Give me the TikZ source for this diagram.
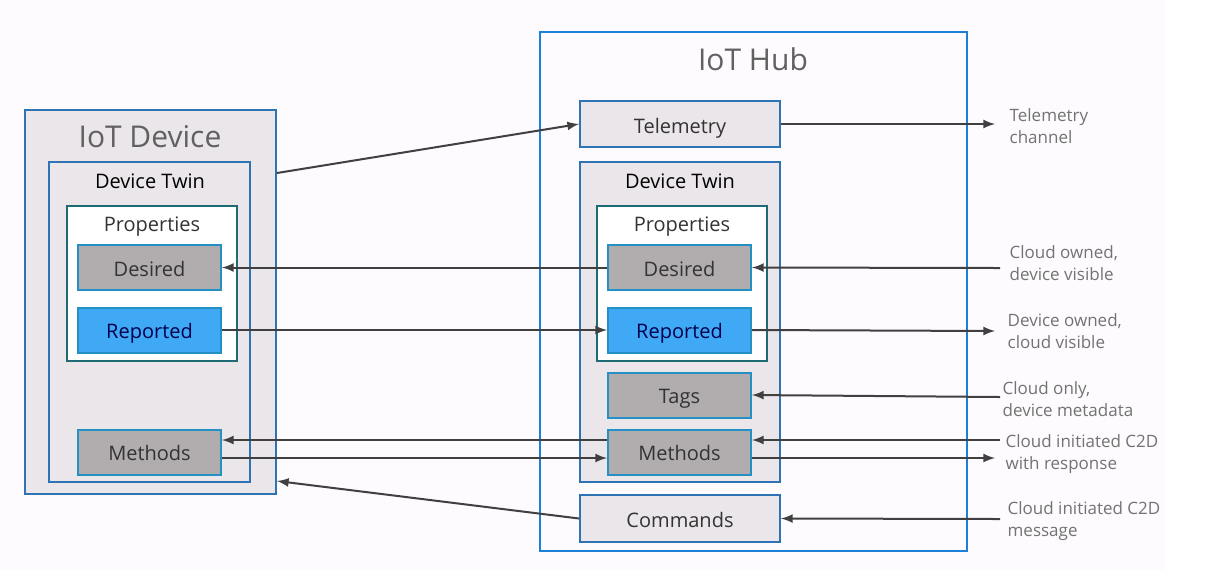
\documentclass[tikz,border=0pt]{standalone}
\usepackage{fontspec}
\setmainfont{Open Sans}
\usepackage{tikz}

\definecolor{paper}{HTML}{FDFBFD}
\definecolor{panel}{HTML}{EBE6E9}
\definecolor{slab}{HTML}{B1ADAE}
\definecolor{skyblue}{HTML}{3FA9F5}
\definecolor{boxblue}{HTML}{2E74B5}
\definecolor{hubblue}{HTML}{1C80D8}
\definecolor{propteal}{HTML}{1F6B75}
\definecolor{wire}{HTML}{404040}
\definecolor{ink}{HTML}{333333}
\definecolor{note}{HTML}{737373}

\begin{document}
\begin{tikzpicture}[x=0.5pt, y=-0.5pt, line width=1pt,
  panelbox/.style={draw=boxblue, fill=panel, inner sep=0pt},
  propbox/.style={draw=propteal, fill=white, inner sep=0pt, minimum width=85pt, minimum height=77.5pt},
  item/.style={draw=boxblue!80!cyan, fill=slab, text=ink, inner sep=0pt, minimum width=71.5pt, minimum height=22.5pt, text height=8.6pt, text depth=0pt, font=\fontsize{10}{12}\selectfont},
  hubitem/.style={panelbox, text=ink, minimum width=100pt, minimum height=23pt, text height=9pt, text depth=0pt, font=\fontsize{10}{12}\selectfont},
  title/.style={text=black!62, font=\fontsize{15}{18}\selectfont},
  subtitle/.style={text=black, text height=7.5pt, text depth=0pt, font=\fontsize{10}{12}\selectfont},
  notetext/.style={anchor=west, align=left, text=note, font=\fontsize{8.5}{11}\selectfont},
  wirestyle/.style={draw=wire, ->, >=latex}]
\useasboundingbox (0,0) rectangle (1226,570);
\fill[paper] (0,0) rectangle (1165,570);
% IoT Device
\node[panelbox, minimum width=125.5pt, minimum height=192pt] (dev) at (150.5,302) {};
\node[title] (devtitle) at (150,137) {IoT Device};
\node[panelbox, minimum width=100.5pt, minimum height=160pt] (twinL) at (149.5,322) {};
\node[subtitle] (twinLtitle) at (150,181) {Device Twin};
\node[propbox] (propL) at (152,283.5) {};
\node[subtitle, text=ink] (propLtitle) at (152,224) {Properties};
\node[item] (desL) at (149.5,267.5) {Desired};
\node[item, fill=skyblue, text=blue!30!black] (repL) at (149.5,330) {Reported};
\node[item] (metL) at (149.5,452) {Methods};
% IoT Hub
\node[draw=hubblue, fill=paper, inner sep=0pt, minimum width=213.5pt, minimum height=259.5pt] (hub) at (753.5,291.5) {};
\node[title] (hubtitle) at (753,59) {IoT Hub};
\node[hubitem] (tel) at (680,124) {Telemetry};
\node[panelbox, minimum width=100pt, minimum height=160pt] (twinR) at (680,322) {};
\node[subtitle] (twinRtitle) at (680,181) {Device Twin};
\node[propbox] (propR) at (682,283.5) {};
\node[subtitle, text=ink] (propRtitle) at (682,224) {Properties};
\node[item] (desR) at (679.5,267.5) {Desired};
\node[item, fill=skyblue, text=blue!30!black] (repR) at (679.5,330) {Reported};
\node[item] (tags) at (679.5,395) {Tags};
\node[item] (metR) at (679.5,452) {Methods};
\node[hubitem, minimum height=23.5pt] (cmd) at (680,518.5) {Commands};
% notes
\node[notetext] (telnote) at (1002,126) {Telemetry\\channel};
\node[notetext] (desnote) at (1002,263) {Cloud owned,\\device visible};
\node[notetext] (repnote) at (1000,331) {Device owned,\\cloud visible};
\node[notetext] (tagnote) at (995,399) {Cloud only,\\device metadata};
\node[notetext] (metnote) at (998,454) {Cloud initiated C2D\\with response};
\node[notetext] (cmdnote) at (1000,521) {Cloud initiated C2D\\message};
\coordinate (telout) at (995,124);
\coordinate (desin) at (1000,268);
\coordinate (repout) at (995,331);
\coordinate (tagin) at (1000,397);
\coordinate (metin) at (1000,440);
\coordinate (metout) at (995,458);
\coordinate (cmdin) at (1000,519);
% connectors
\draw[wirestyle] (dev.east |- 0,173) -- (tel.west);
\draw[wirestyle] (tel.east) -- (telout);
\draw[wirestyle] (desR.west) -- (desL.east);
\draw[wirestyle] (desin) -- (desR.east);
\draw[wirestyle] (repL.east) -- (repR.west);
\draw[wirestyle] (repR.east) -- (repout);
\draw[wirestyle] (tagin) -- (tags.east);
\draw[wirestyle] (metR.west |- 0,440) -- (metL.east |- 0,440);
\draw[wirestyle] (metL.east |- 0,458) -- (metR.west |- 0,458);
\draw[wirestyle] (metin) -- (metR.east |- metin);
\draw[wirestyle] (metR.east |- metout) -- (metout);
\draw[wirestyle] (cmd.west) -- (dev.east |- 0,481);
\draw[wirestyle] (cmdin) -- (cmd.east);
\end{tikzpicture}
\end{document}
